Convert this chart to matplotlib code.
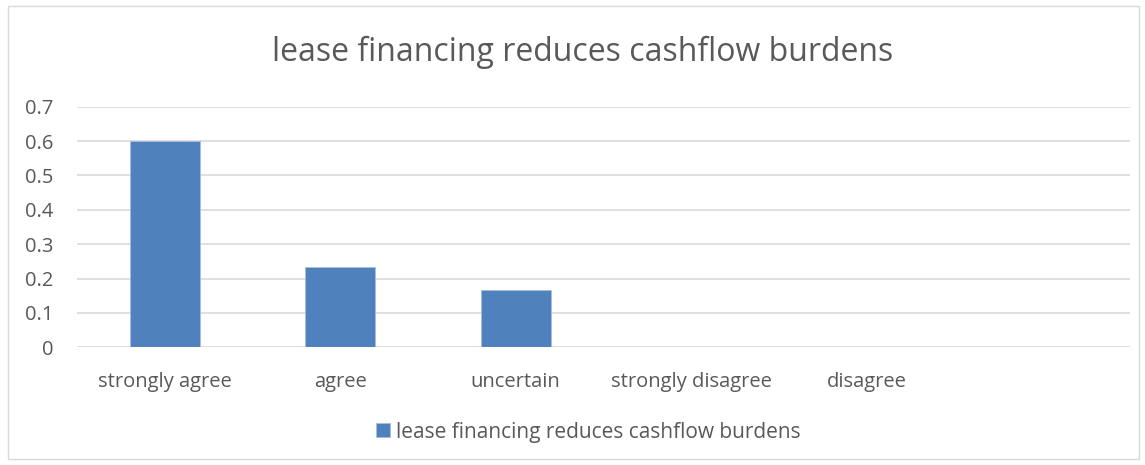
import matplotlib.pyplot as plt
from matplotlib.patches import FancyBboxPatch

# Data
categories = ["strongly agree", "agree", "uncertain", "strongly disagree", "disagree"]
values = [0.6, 0.233, 0.167, 0, 0]
series_name = "lease financing reduces cashflow burdens"
yticks = [0, 0.1, 0.2, 0.3, 0.4, 0.5, 0.6, 0.7]

text_color = "#595959"
bar_color = "#4f81bd"
plt.rcParams["font.family"] = ["Open Sans", "DejaVu Sans"]

fig = plt.figure(figsize=(11.45, 4.65), dpi=100)
# outer chart border
fig.patches.append(FancyBboxPatch((0.007, 0.012), 0.988, 0.976, boxstyle="square,pad=0",
                                  transform=fig.transFigure, fill=False,
                                  edgecolor="#d9d9d9", linewidth=1))

ax = fig.add_axes([77 / 1145, 1 - 347.3 / 465, (1130 - 77) / 1145, (347.3 - 106.7) / 465])
x = list(range(len(categories)))
ax.bar(x, values, width=0.4, color=bar_color, edgecolor="#a6bfe0", linewidth=0.6,
       label=series_name, zorder=3)

ax.set_xlim(-0.5, 5.5)
ax.set_ylim(0, 0.7)
ax.set_yticks(yticks)
ax.set_yticklabels([f"{t:g}" for t in yticks])
ax.set_xticks(x)
ax.set_xticklabels(categories)
ax.grid(axis="y", color="#d9d9d9", linewidth=1.2, zorder=0)
for s in ax.spines.values():
    s.set_visible(False)
ax.tick_params(length=0, colors=text_color, labelsize=14.5)
ax.tick_params(axis="y", pad=17)
ax.tick_params(axis="x", pad=17.5)

fig.text(0.509, 1 - 52 / 465, "lease financing reduces cashflow burdens", ha="center", va="center",
         fontsize=23, color=text_color)

fig.legend(loc="center", bbox_to_anchor=(0.514, 1 - 432 / 465), frameon=False, fontsize=15,
           labelcolor=text_color, handlelength=0.65, handleheight=0.65, handletextpad=0.3)

fig.savefig("out.png", dpi=100, facecolor="white")
